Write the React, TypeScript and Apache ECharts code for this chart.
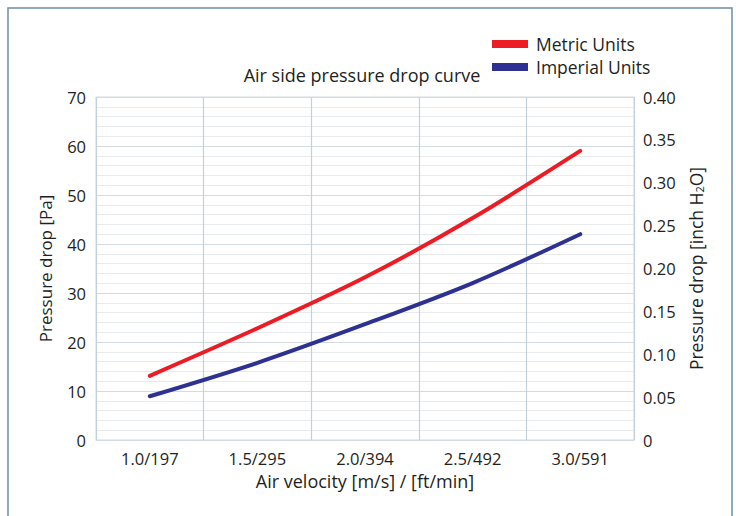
import React, { useEffect, useRef } from "react";
import * as echarts from "echarts";

const categories = ["1.0/197", "1.5/295", "2.0/394", "2.5/492", "3.0/591"];
const metricPa = [13.1, 22.8, 33.2, 45.3, 59.0];
const imperialInch = [0.051, 0.09, 0.135, 0.183, 0.24];

const FONT = "'Open Sans', 'Noto Sans', sans-serif";
const TEXT = "#231f20";

export default function App() {
  const ref = useRef<HTMLDivElement>(null);
  useEffect(() => {
    if (!ref.current) return;
    const chart = echarts.init(ref.current, null, { renderer: "svg" });
    chart.setOption({
      animation: false,
      backgroundColor: "#ffffff",
      textStyle: { fontFamily: FONT, color: TEXT },
      title: {
        text: "Air side pressure drop curve",
        left: 362,
        top: 66,
        padding: 0,
        textAlign: "center",
        textStyle: { fontFamily: FONT, fontSize: 18, fontWeight: "normal", color: TEXT },
      },
      legend: {
        orient: "vertical",
        left: 492,
        top: 35,
        padding: 0,
        itemWidth: 36,
        itemHeight: 8,
        itemGap: 5,
        icon: "rect",
        textStyle: { fontFamily: FONT, fontSize: 17.5, lineHeight: 17, color: TEXT, padding: [0, 0, 0, 3] },
        data: ["Metric Units", "Imperial Units"],
      },
      graphic: [
        {
          type: "rect",
          shape: { x: 8, y: 8, width: 724, height: 530 },
          style: { fill: "none", stroke: "#6f8fa0", lineWidth: 1.5 },
          silent: true,
          z: -1,
        },
      ],
      grid: {
        left: 96,
        right: 102,
        top: 97,
        bottom: 76,
        show: true,
        borderColor: "#d3dbe1",
        borderWidth: 1,
        containLabel: false,
      },
      xAxis: {
        type: "category",
        data: categories,
        boundaryGap: true,
        name: "Air velocity [m/s] / [ft/min]",
        nameLocation: "middle",
        nameGap: 31,
        nameTextStyle: { fontFamily: FONT, fontSize: 18, color: TEXT },
        axisLine: { show: true, lineStyle: { color: "#d3dbe1" } },
        axisTick: { show: false },
        axisLabel: { fontFamily: FONT, fontSize: 16.5, color: TEXT, margin: 10 },
        splitLine: { show: true, lineStyle: { color: "#c5d1da", width: 1.2 } },
      },
      yAxis: [
        {
          type: "value",
          min: 0,
          max: 70,
          interval: 10,
          position: "left",
          name: "Pressure drop [Pa]",
          nameLocation: "middle",
          nameGap: 42,
          nameTextStyle: { fontFamily: FONT, fontSize: 17, color: TEXT },
          axisLine: { show: false },
          axisTick: { show: false },
          axisLabel: { fontFamily: FONT, fontSize: 16.5, color: TEXT, margin: 10 },
          splitLine: { show: true, lineStyle: { color: "#d3dbe1", width: 1.2 } },
          minorTick: { show: false, splitNumber: 5 },
          minorSplitLine: { show: true, lineStyle: { color: "#e8ebee", width: 1 } },
        },
        {
          type: "value",
          min: 0,
          max: 0.4,
          interval: 0.05,
          position: "right",
          name: "Pressure drop [inch H{sub|2}O]",
          nameLocation: "middle",
          nameGap: 53,
          nameTextStyle: {
            fontFamily: FONT,
            fontSize: 17.5,
            color: TEXT,
            rich: {
              sub: { fontFamily: FONT, fontSize: 11, color: TEXT, verticalAlign: "bottom", padding: [7, 0, 0, 0] },
            },
          },
          axisLine: { show: false },
          axisTick: { show: false },
          axisLabel: {
            fontFamily: FONT,
            fontSize: 16.5,
            color: TEXT,
            margin: 9,
            formatter: (v: number) => (v === 0 ? "0" : v.toFixed(2)),
          },
          splitLine: { show: false },
        },
      ],
      series: [
        {
          name: "Metric Units",
          type: "line",
          yAxisIndex: 0,
          data: metricPa,
          smooth: 0.3,
          symbol: "none",
          color: "#ed1c24",
          lineStyle: { color: "#ed1c24", width: 4, cap: "round" },
          itemStyle: { color: "#ed1c24" },
        },
        {
          name: "Imperial Units",
          type: "line",
          yAxisIndex: 1,
          data: imperialInch,
          smooth: 0.3,
          symbol: "none",
          color: "#2e3192",
          lineStyle: { color: "#2e3192", width: 4, cap: "round" },
          itemStyle: { color: "#2e3192" },
        },
      ],
    });
    return () => chart.dispose();
  }, []);
  return (
    <div
      ref={ref}
      style={{ position: "fixed", left: 0, top: 0, width: 736, height: 516 }}
    />
  );
}
